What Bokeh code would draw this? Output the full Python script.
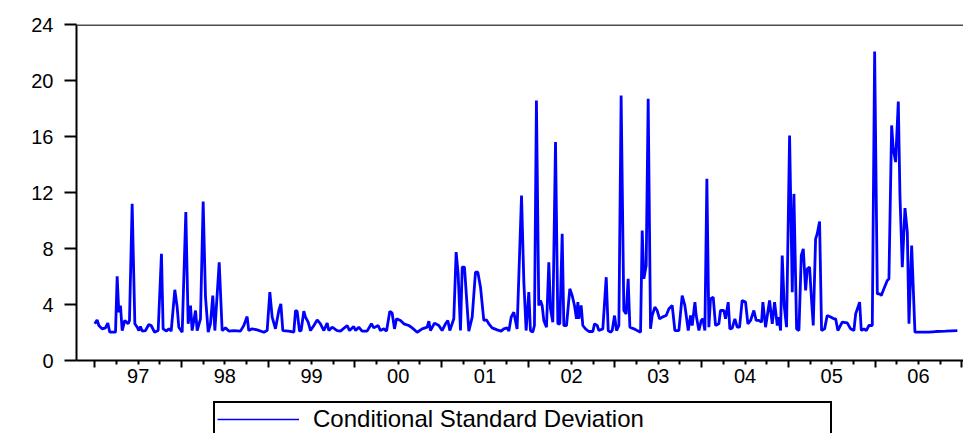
from bokeh.plotting import figure
from bokeh.layouts import column
from bokeh.models import (Range1d, LinearAxis, FixedTicker, Span, Legend,
                          LegendItem, ColumnDataSource)
from bokeh.embed import file_html
from bokeh.resources import INLINE

# ---- data (decimal year, conditional standard deviation) ----
dates = [
    1997.000, 1997.027, 1997.047, 1997.085, 1997.123, 1997.150, 1997.173, 1997.239,
    1997.258, 1997.277, 1997.296, 1997.316, 1997.346, 1997.385, 1997.400, 1997.431,
    1997.462, 1997.489, 1997.508, 1997.527, 1997.546, 1997.585, 1997.623, 1997.650,
    1997.689, 1997.731, 1997.769, 1997.788, 1997.827, 1997.854, 1997.881, 1997.923,
    1997.950, 1997.969, 1998.008, 1998.050, 1998.077, 1998.104, 1998.123, 1998.162,
    1998.181, 1998.219, 1998.250, 1998.277, 1998.308, 1998.334, 1998.361, 1998.385,
    1998.435, 1998.469, 1998.507, 1998.546, 1998.604, 1998.680, 1998.719, 1998.757,
    1998.776, 1998.815, 1998.873, 1998.950, 1998.988, 1999.019, 1999.046, 1999.084,
    1999.123, 1999.146, 1999.169, 1999.238, 1999.296, 1999.315, 1999.334, 1999.361,
    1999.380, 1999.411, 1999.430, 1999.461, 1999.488, 1999.527, 1999.565, 1999.603,
    1999.642, 1999.680, 1999.699, 1999.738, 1999.795, 1999.834, 1999.911, 1999.938,
    1999.987, 2000.007, 2000.045, 2000.083, 2000.141, 2000.191, 2000.218, 2000.268,
    2000.295, 2000.334, 2000.365, 2000.403, 2000.430, 2000.457, 2000.480, 2000.526,
    2000.565, 2000.622, 2000.661, 2000.718, 2000.776, 2000.834, 2000.853, 2000.872,
    2000.918, 2000.968, 2001.006, 2001.045, 2001.072, 2001.095, 2001.141, 2001.168,
    2001.191, 2001.218, 2001.238, 2001.264, 2001.314, 2001.353, 2001.391, 2001.418,
    2001.449, 2001.487, 2001.518, 2001.545, 2001.583, 2001.641, 2001.687, 2001.718,
    2001.756, 2001.776, 2001.803, 2001.833, 2001.871, 2001.922, 2001.949, 2001.975,
    2002.006, 2002.025, 2002.052, 2002.071, 2002.094, 2002.121, 2002.140, 2002.160,
    2002.179, 2002.210, 2002.237, 2002.256, 2002.283, 2002.314, 2002.341, 2002.364,
    2002.391, 2002.410, 2002.441, 2002.479, 2002.506, 2002.533, 2002.556, 2002.572,
    2002.583, 2002.610, 2002.629, 2002.660, 2002.699, 2002.745, 2002.764, 2002.795,
    2002.814, 2002.860, 2002.899, 2002.922, 2002.949, 2002.968, 2002.995, 2003.018,
    2003.045, 2003.071, 2003.102, 2003.129, 2003.152, 2003.172, 2003.218, 2003.256,
    2003.295, 2003.314, 2003.333, 2003.360, 2003.383, 2003.410, 2003.429, 2003.460,
    2003.487, 2003.514, 2003.545, 2003.591, 2003.622, 2003.660, 2003.691, 2003.737,
    2003.775, 2003.806, 2003.822, 2003.845, 2003.872, 2003.891, 2003.922, 2003.937,
    2003.968, 2003.995, 2004.014, 2004.037, 2004.060, 2004.083, 2004.102, 2004.133,
    2004.160, 2004.198, 2004.217, 2004.256, 2004.275, 2004.306, 2004.325, 2004.352,
    2004.383, 2004.410, 2004.437, 2004.467, 2004.506, 2004.533, 2004.564, 2004.602,
    2004.629, 2004.660, 2004.691, 2004.706, 2004.737, 2004.783, 2004.814, 2004.841,
    2004.872, 2004.891, 2004.910, 2004.929, 2004.952, 2004.979, 2005.014, 2005.045,
    2005.064, 2005.095, 2005.122, 2005.149, 2005.172, 2005.199, 2005.218, 2005.245,
    2005.264, 2005.287, 2005.314, 2005.333, 2005.360, 2005.383, 2005.418, 2005.448,
    2005.487, 2005.525, 2005.545, 2005.571, 2005.621, 2005.679, 2005.718, 2005.756,
    2005.776, 2005.822, 2005.841, 2005.872, 2005.899, 2005.929, 2005.968, 2005.995,
    2006.026, 2006.052, 2006.072, 2006.102, 2006.141, 2006.160, 2006.191, 2006.210,
    2006.237, 2006.268, 2006.287, 2006.314, 2006.345, 2006.372, 2006.391, 2006.422,
    2006.460, 2006.526, 2006.622, 2006.699, 2006.814, 2006.949,
]

cond_sd = [
    2.62, 2.90, 2.50, 2.26, 2.33, 2.67, 2.02, 2.02,
    6.02, 3.45, 3.93, 2.14, 2.86, 2.62, 2.86, 11.19,
    2.62, 2.38, 2.14, 2.43, 2.10, 2.14, 2.57, 2.50,
    2.02, 2.14, 7.62, 2.26, 2.10, 2.26, 2.10, 5.05,
    3.81, 2.38, 2.02, 10.60, 2.62, 3.93, 2.14, 3.57,
    2.14, 2.98, 11.36, 4.52, 2.02, 2.62, 4.64, 2.14,
    7.02, 2.14, 2.33, 2.10, 2.14, 2.10, 2.50, 3.14,
    2.14, 2.26, 2.19, 2.02, 2.14, 4.88, 3.10, 2.26,
    3.57, 4.05, 2.14, 2.10, 2.02, 3.57, 3.52, 2.10,
    2.14, 3.52, 3.10, 2.74, 2.14, 2.50, 2.90, 2.62,
    2.14, 2.67, 2.14, 2.38, 2.14, 2.10, 2.50, 2.14,
    2.43, 2.14, 2.38, 2.10, 2.10, 2.62, 2.33, 2.50,
    2.14, 2.26, 2.10, 3.52, 3.38, 2.26, 2.98, 2.86,
    2.62, 2.50, 2.33, 2.02, 2.26, 2.38, 2.81, 2.14,
    2.67, 2.50, 2.14, 2.62, 2.86, 2.14, 2.98, 7.74,
    6.19, 2.14, 6.67, 6.67, 2.10, 3.10, 6.31, 6.31,
    5.24, 2.86, 2.90, 2.62, 2.33, 2.19, 2.10, 2.26,
    2.33, 2.10, 3.10, 3.45, 2.26, 11.79, 5.60, 2.14,
    4.88, 2.14, 2.02, 2.50, 18.57, 3.93, 4.29, 3.93,
    2.86, 2.38, 7.02, 3.69, 2.74, 15.60, 2.62, 2.62,
    9.05, 2.50, 2.50, 5.12, 4.64, 3.93, 2.98, 4.17,
    2.98, 3.93, 2.50, 2.26, 2.07, 2.07, 2.62, 2.50,
    2.14, 2.26, 5.95, 2.14, 2.02, 2.14, 3.21, 2.14,
    2.50, 18.93, 3.57, 3.33, 5.83, 2.38, 2.26, 2.14,
    2.02, 9.29, 5.83, 6.79, 18.69, 2.26, 3.21, 3.81,
    3.57, 2.98, 3.10, 3.21, 3.69, 3.93, 2.14, 2.14,
    4.64, 3.93, 3.21, 2.14, 3.21, 2.50, 4.17, 3.21,
    2.14, 2.86, 2.98, 2.14, 12.98, 2.38, 4.40, 4.52,
    2.50, 2.62, 3.57, 3.57, 2.98, 4.17, 2.26, 2.31,
    2.98, 2.38, 2.38, 4.29, 4.17, 2.62, 2.86, 3.57,
    2.86, 2.86, 2.74, 4.17, 2.38, 4.29, 2.62, 4.17,
    2.50, 3.10, 2.14, 7.50, 3.93, 2.38, 16.07, 4.88,
    11.90, 2.26, 2.14, 7.50, 7.98, 5.00, 6.55, 6.67,
    4.64, 2.50, 8.69, 9.05, 9.93, 2.14, 2.26, 3.21,
    3.10, 2.98, 2.98, 2.14, 2.74, 2.69, 2.26, 2.14,
    3.33, 4.17, 2.14, 2.26, 2.14, 2.50, 2.50, 22.07,
    4.76, 4.76, 4.64, 5.12, 5.71, 5.83, 16.79, 15.12,
    14.17, 18.50, 11.79, 6.67, 10.88, 9.17, 2.62, 8.21,
    2.02, 2.02, 2.02, 2.07, 2.10, 2.14,
]

series_name = "Conditional Standard Deviation"
year_starts = [1997, 1998, 1999, 2000, 2001, 2002, 2003, 2004, 2005, 2006, 2007]
quarter_ticks = [1996.75, 1997.25, 1997.5, 1997.75, 1998.25, 1998.5, 1998.75,
                 1999.25, 1999.5, 1999.75, 2000.25, 2000.5, 2000.75,
                 2001.25, 2001.5, 2001.75, 2002.25, 2002.5, 2002.75,
                 2003.25, 2003.5, 2003.75, 2004.25, 2004.5, 2004.75,
                 2005.25, 2005.5, 2005.75, 2006.25, 2006.5, 2006.75]
year_mids = [1997.5, 1998.5, 1999.5, 2000.5, 2001.5, 2002.5, 2003.5, 2004.5, 2005.5, 2006.5]
year_labels = ["97", "98", "99", "00", "01", "02", "03", "04", "05", "06"]
y_ticks = [0, 4, 8, 12, 16, 20, 24]

FONT = "Liberation Sans"

p = figure(width=963, height=400, output_backend="svg", toolbar_location=None,
           x_range=Range1d(1996.789, 2007.02), y_range=Range1d(0, 24),
           x_axis_location=None, y_axis_location="left",
           min_border_left=76, min_border_top=24, min_border_right=0,
           min_border_bottom=40)
p.outline_line_color = None
p.xgrid.visible = False
p.ygrid.visible = False
p.background_fill_color = "white"
p.border_fill_color = "white"

# y axis
ya = p.yaxis[0]
ya.ticker = FixedTicker(ticks=y_ticks)
ya.axis_line_color = "black"
ya.axis_line_width = 2
ya.major_tick_out = 12
ya.major_tick_in = 0
ya.major_tick_line_width = 2
ya.major_tick_line_color = "black"
ya.minor_tick_line_color = None
ya.major_label_standoff = 11
ya.major_label_text_font = FONT
ya.major_label_text_font_size = "20px"
ya.major_label_text_color = "black"

# x axis with year/quarter ticks
xa = LinearAxis(ticker=FixedTicker(ticks=year_starts, minor_ticks=quarter_ticks),
                major_label_overrides={y: "" for y in year_starts})
xa.axis_line_color = "black"
xa.axis_line_width = 2
xa.major_tick_out = 7
xa.major_tick_in = 0
xa.major_tick_line_width = 2
xa.major_tick_line_color = "black"
xa.minor_tick_out = 4
xa.minor_tick_in = 0
xa.minor_tick_line_width = 2
xa.minor_tick_line_color = "black"
xa.major_label_standoff = 0
xa.major_label_text_font_size = "1px"
p.add_layout(xa, "below")

# x axis carrying the year labels (centred in each year)
xb = LinearAxis(ticker=FixedTicker(ticks=year_mids),
                major_label_overrides={m: lab for m, lab in zip(year_mids, year_labels)})
xb.axis_line_color = None
xb.major_tick_line_color = None
xb.minor_tick_line_color = None
xb.major_tick_out = 0
xb.major_tick_in = 0
xb.major_label_standoff = 1
xb.major_label_text_font = FONT
xb.major_label_text_font_size = "20px"
xb.major_label_text_color = "black"
p.add_layout(xb, "below")

# top frame line
p.add_layout(Span(location=24, dimension="width", line_color="#4d4d4d", line_width=3))

src = ColumnDataSource(data=dict(x=dates, y=cond_sd))
p.line("x", "y", source=src, line_color="#0000FF", line_width=2.8)

# ---- legend strip below the chart (box cut at the bottom edge like the original) ----
lf = figure(width=963, height=33, output_backend="svg", toolbar_location=None,
            x_range=Range1d(0, 1), y_range=Range1d(0, 1),
            x_axis_location=None, y_axis_location=None,
            min_border=0, min_border_left=0, min_border_right=0,
            min_border_top=0, min_border_bottom=0)
lf.outline_line_color = None
lf.xgrid.visible = False
lf.ygrid.visible = False
lf.background_fill_color = "white"
lf.border_fill_color = "white"
# thin sample line for the legend (a single point draws nothing visible)
r_leg = lf.line(x=dates[:1], y=cond_sd[:1], line_color="#0000FF", line_width=1.5)

# legend frame is aligned with the chart frame (left edge at x=76)
legend = Legend(items=[LegendItem(label=series_name, renderers=[r_leg])],
                location=(137, -4), orientation="horizontal",
                border_line_color="black", border_line_width=2, border_line_alpha=1,
                padding=2, margin=0, spacing=0,
                glyph_width=82, glyph_height=20, label_standoff=14,
                label_text_font=FONT, label_text_font_size="24px",
                label_text_color="black",
                label_width=515, label_height=20,
                background_fill_color="white", background_fill_alpha=1)
lf.add_layout(legend, "center")

page = column(p, lf, spacing=0)
open("out.html", "w").write(file_html(page, INLINE))
